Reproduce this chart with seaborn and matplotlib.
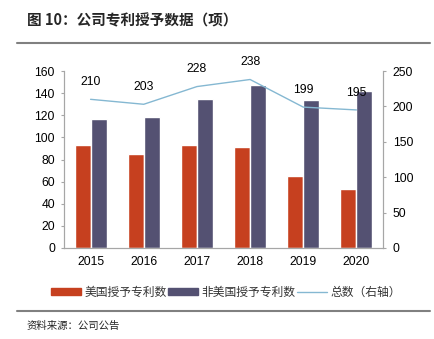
import matplotlib
matplotlib.use("Agg")
import matplotlib.pyplot as plt
import seaborn as sns
import pandas as pd
from matplotlib.patches import Patch
from matplotlib.lines import Line2D

years = ["2015", "2016", "2017", "2018", "2019", "2020"]
us_patents = [93, 85, 93, 91, 65, 53]
non_us_patents = [117, 118, 135, 147, 134, 142]
totals = [210, 203, 228, 238, 199, 195]

series_names = ["美国授予专利数", "非美国授予专利数", "总数（右轴）"]

sns.set_theme(style="white")
plt.rcParams['font.family'] = ['Liberation Sans', 'Noto Sans CJK SC', 'DejaVu Sans']

df = pd.DataFrame({
    "year": years * 2,
    "value": us_patents + non_us_patents,
    "series": [series_names[0]] * len(years) + [series_names[1]] * len(years),
})
df_tot = pd.DataFrame({"pos": list(range(len(years))), "total": totals})

c_red = "#C6401F"
c_blue = "#545172"
c_line = "#85B8D2"
gray = "#A6A6A6"

fig = plt.figure(figsize=(4.34, 3.39), dpi=100)
ax = fig.add_axes([64/434, 1-248/339, (383-64)/434, (248-71)/339])

sns.barplot(data=df, x="year", y="value", hue="series", palette=[c_red, c_blue],
            width=0.6, ax=ax, legend=False, saturation=1)
ax.set_ylim(0, 160)
ax.set_yticks(range(0, 161, 20))
ax.set_xlim(-0.5, 5.5)
ax.set_xlabel("")
ax.set_ylabel("")

ax2 = ax.twinx()
sns.lineplot(data=df_tot, x="pos", y="total", color=c_line, linewidth=1.0, ax=ax2)
ax2.set_ylim(0, 250)
ax2.set_yticks(range(0, 251, 50))
ax2.set_xlim(-0.5, 5.5)
ax2.set_ylabel("")
for i, t in enumerate(totals):
    ax2.annotate(str(t), (i, t), xytext=(0, 12.5), textcoords="offset points",
                 ha="center", va="center", fontsize=8.7, color="#000000")

for a in (ax, ax2):
    for s in a.spines.values():
        s.set_color(gray)
        s.set_linewidth(0.8)
    a.spines["top"].set_visible(False)
    a.tick_params(axis="both", labelsize=8.7, colors="#000000", length=2.5, width=0.8, color=gray)
ax.tick_params(axis="x", length=0, pad=6)
ax.tick_params(axis="y", direction="out", pad=4)
ax2.tick_params(axis="y", direction="out", pad=4.5)

handles = [Patch(color=c_red), Patch(color=c_blue), Line2D([0], [0], color=c_line, lw=1)]
leg = fig.legend(handles, series_names, loc="center", bbox_to_anchor=(226/434, 1-292/339), ncol=3,
           frameon=False, handlelength=2.55, handleheight=0.5,
           columnspacing=0.15, handletextpad=0.25, prop={'family': ['Noto Sans CJK SC'], 'size': 8.5})
for t in leg.get_texts():
    t.set_color("#333333")

fig.text(27/434, 1-20/339, "图 10：公司专利授予数据（项）", fontsize=10.5, fontweight="bold",
         va="center", ha="left", family=['Noto Sans CJK SC', 'DejaVu Sans'])
fig.add_artist(Line2D([17/434, 430/434], [1-43/339, 1-43/339], color="#808080", lw=1.5))
fig.add_artist(Line2D([17/434, 430/434], [1-311/339, 1-311/339], color="#808080", lw=1.5))
fig.text(27/434, 1-326/339, "资料来源：公司公告", fontsize=7.5, va="center", ha="left",
         family=['Noto Sans CJK SC', 'DejaVu Sans'])

fig.savefig("out.png", dpi=100)
